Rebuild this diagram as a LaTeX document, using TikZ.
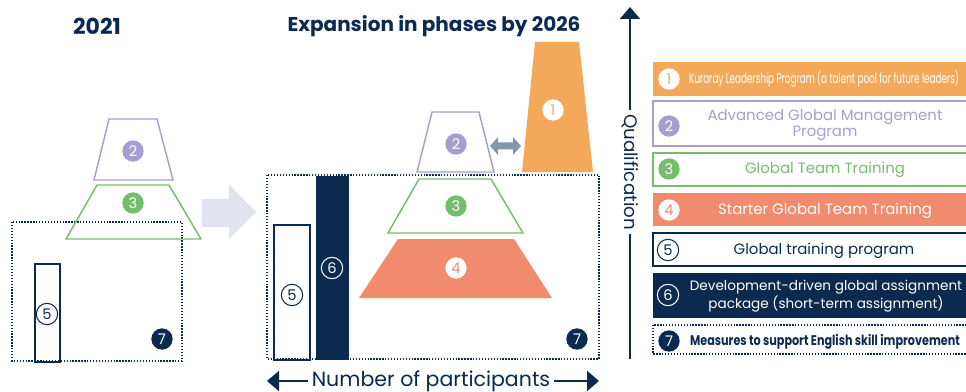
\documentclass[tikz,border=0pt]{standalone}
\usepackage{fontspec}
\setmainfont{Poppins}
\usepackage{graphicx}
\usetikzlibrary{arrows.meta}

\definecolor{kOrange}{HTML}{F4A95A}
\definecolor{kPurple}{HTML}{A59ED0}
\definecolor{kGreen}{HTML}{74BD6C}
\definecolor{kSalmon}{HTML}{F08B6D}
\definecolor{kNavy}{HTML}{0B2A4F}
\definecolor{kGrey}{HTML}{E1E4EE}
\definecolor{kSlate}{HTML}{8695AE}

\tikzset{
  num/.style={circle, minimum size=16pt, inner sep=0pt, font=\fontsize{11}{11}\selectfont},
  numfill/.style={num, fill=#1, text=white},
  numring/.style={num, draw=#1, line width=0.8pt, text=#1},
  numwhite/.style={num, fill=white, text=#1},
  dotbox/.style={draw=kNavy, line width=1pt, dash pattern=on 1pt off 1.2pt},
  legtext/.style={align=center, font=\fontsize{11.2}{12.5}\selectfont},
  axislabel/.style={fill=white, text=kNavy, inner sep=3pt},
}

\begin{document}
\begin{tikzpicture}[x=0.75pt, y=-0.75pt]
\useasboundingbox (0,0) rectangle (966,392);

% Headings
\node[text=kNavy, font=\fontsize{16.5}{16.5}\selectfont\bfseries] (head21) at (97,26) {2021};
\node[text=kNavy, font=\fontsize{15}{15}\selectfont\bfseries] (head26) at (434,26) {Expansion in phases by 2026};

% 2021 situation
\draw[dotbox] (12,222) rectangle (182,361);
\draw[kNavy, line width=1.2pt] (35,264) rectangle (60,362);
\draw[kPurple, line width=1.1pt] (109,119) -- (157,119) -- (173,180) -- (94,180) -- cycle;
\draw[kGreen, line width=1.1pt] (97,185) -- (169,185) -- (201,239) -- (66,239) -- cycle;
\node[numfill=kPurple] (old2) at (133,151) {2};
\node[numfill=kGreen] (old3) at (133,203) {3};
\node[numring=kNavy, fill=white] (old5) at (47,314) {5};
\node[numfill=kNavy] (old7) at (162,339) {7};

% big grey arrow
\fill[kGrey] (202,199) -- (229,199) -- (229,184) -- (256,212) -- (229,239) -- (229,227) -- (202,227) -- cycle;

% 2026 situation
\draw[dotbox] (267,175) rectangle (599,359);
\draw[kNavy, line width=1.2pt] (274,225) rectangle (310,360);
\fill[kNavy] (316,176) rectangle (349,360);
\fill[kOrange] (535,42) -- (579,42) -- (593,172) -- (522,172) -- cycle;
\draw[kPurple, line width=1.1pt] (432,112) -- (479,112) -- (494,172) -- (417,172) -- cycle;
\draw[kGreen, line width=1.1pt] (419,179) -- (491,179) -- (523,233) -- (388,233) -- cycle;
\fill[kSalmon] (398,239) -- (514,239) -- (552,298) -- (359,298) -- cycle;
\node[numwhite=kOrange] (new1) at (553,110) {1};
\node[numfill=kPurple] (new2) at (456,144) {2};
\node[numfill=kGreen] (new3) at (456,206) {3};
\node[numwhite=kSalmon] (new4) at (456,268) {4};
\node[numring=kNavy] (new5) at (292,295) {5};
\node[numring=white] (new6) at (332,268) {6};
\node[numfill=kNavy] (new7) at (577,339) {7};

% link between 2 and 1
\coordinate (linkL) at (490,146);
\coordinate (linkR) at (521,146);
\fill[kSlate] (linkL) -- ++(8,-9) -- ++(0,5.5) -- ++(15,0) -- ++(0,-5.5) -- (linkR)
  -- ++(-8,9) -- ++(0,-5.5) -- ++(-15,0) -- ++(0,5.5) -- cycle;

% axes
\coordinate (qualBot) at (630,359);
\coordinate (qualTop) at (630,7);
\draw[kNavy, line width=1.5pt, -{Triangle[width=15pt, length=9pt]}] (qualBot) -- (qualTop);
\node[axislabel, rotate=-90, font=\fontsize{13.7}{13.7}\selectfont] (qual) at (630,172) {Qualification};

\coordinate (partL) at (267,381);
\coordinate (partR) at (599,381);
\draw[kNavy, line width=1.5pt, {Triangle[width=15pt, length=9pt]}-{Triangle[width=15pt, length=9pt]}] (partL) -- (partR);
\node[axislabel, font=\fontsize{15.4}{15.4}\selectfont] (part) at (431,381) {Number of participants};

% Legend
\fill[kOrange] (653,62) rectangle (970,96);
\node[numwhite=kOrange] (leg1) at (669,79) {1};
\node[text=white, font=\fontsize{10.5}{12}\selectfont] (legtext1) at (824,79) {\scalebox{0.63}[1]{Kuraray Leadership Program (a talent pool for future leaders)}};

\draw[kPurple, line width=1.1pt] (653,101) rectangle (970,146);
\node[numfill=kPurple] (leg2) at (669,126) {2};
\node[legtext, text=kPurple] (legtext2) at (825,125) {Advanced Global Management\\Program};

\draw[kGreen, line width=1.1pt] (653,153) rectangle (970,186);
\node[numfill=kGreen] (leg3) at (669,169) {3};
\node[legtext, text=kGreen] (legtext3) at (825,170) {Global Team Training};

\fill[kSalmon] (653,193) rectangle (970,226);
\node[numwhite=kSalmon] (leg4) at (669,210) {4};
\node[legtext, text=white] (legtext4) at (825,211) {Starter Global Team Training};

\draw[kNavy, line width=1.1pt] (653,233) rectangle (970,266);
\node[numring=kNavy] (leg5) at (668,250) {5};
\node[legtext, text=kNavy] (legtext5) at (824,251) {Global training program};

\fill[kNavy] (653,273) rectangle (970,318);
\node[numring=white] (leg6) at (668,295) {6};
\node[legtext, text=white, font=\fontsize{10.2}{12}\selectfont] (legtext6) at (826,296) {Development-driven global assignment\\package (short-term assignment)};

\draw[dotbox] (653,325) rectangle (970,354);
\node[numfill=kNavy] (leg7) at (669,341) {7};
\node[text=kNavy, font=\fontsize{10.5}{12}\selectfont\bfseries] (legtext7) at (825,342) {\scalebox{0.8}[1]{Measures to support English skill improvement}};
\end{tikzpicture}
\end{document}
